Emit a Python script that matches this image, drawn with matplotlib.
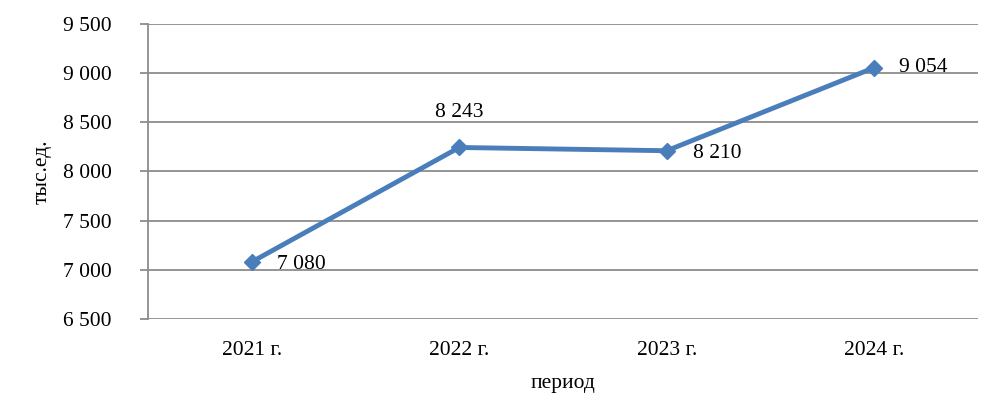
import matplotlib.pyplot as plt
from matplotlib.ticker import FuncFormatter

years = ["2021 г.", "2022 г.", "2023 г.", "2024 г."]
values = [7080, 8243, 8210, 9054]

plt.rcParams['font.family'] = ['Liberation Serif', 'DejaVu Serif']

fig = plt.figure(figsize=(10, 4.17), dpi=100)
ax = fig.add_axes([0.148, 0.235, 0.83, 0.708])

x = range(len(years))
ax.plot(x, values, color="#4a7ebb", linewidth=3.5, marker="D", markersize=8)

def sp(v):
    return f"{int(v):,}".replace(",", " ")

# смещения подписей в пунктах
offsets = [(18, -2, "left"), (0, 25, "center"), (19, -2, "left"), (18, 0, "left")]
for i, v in enumerate(values):
    dx, dy, ha = offsets[i]
    ax.annotate(sp(v), (i, v), xytext=(dx, dy), textcoords="offset points",
                ha=ha, va="center", fontsize=15.5)

ax.set_xlim(-0.5, 3.5)
ax.set_ylim(6500, 9500)
ax.set_yticks(range(6500, 9501, 500))
ax.yaxis.set_major_formatter(FuncFormatter(lambda v, p: sp(v)))
ax.set_xticks(list(x))
ax.set_xticklabels(years)
ax.grid(axis="y", color="#8c8c8c", linewidth=1.3)
ax.set_axisbelow(True)
for s in ["top", "right", "bottom"]:
    ax.spines[s].set_visible(False)
ax.spines["left"].set_color("#8c8c8c")
ax.spines["left"].set_linewidth(1.3)
ax.tick_params(axis="y", length=6, color="#8c8c8c", width=1.3, labelsize=15.5, pad=20)
ax.tick_params(axis="x", length=0, labelsize=15.5, pad=16)

ax.set_xlabel("период", fontsize=15.5, labelpad=10)
ax.set_ylabel("тыс.ед.", fontsize=15.5, labelpad=8)

fig.savefig("out.png", dpi=100)
